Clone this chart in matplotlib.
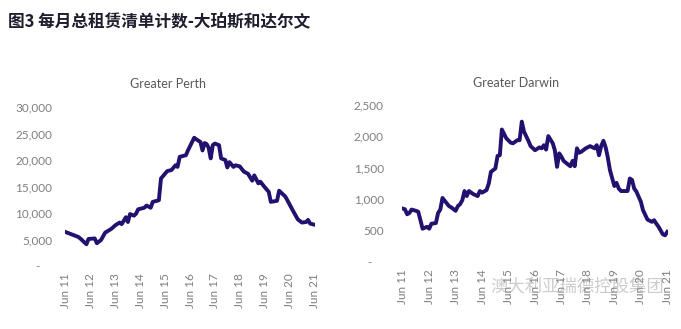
import matplotlib
matplotlib.use("Agg")
import matplotlib.pyplot as plt
import matplotlib.ticker as mticker
import pandas as pd

plt.rcParams['font.family'] = ['Lato', 'Noto Sans CJK SC', 'DejaVu Sans']

title = "图3 每月总租赁清单计数-大珀斯和达尔文"
start = pd.Timestamp("2011-06-01")

# Greater Perth: months since Jun 2011, total listings
perth_months = [0, 6, 7, 10, 11, 14, 15, 17, 19, 22, 24, 26, 27, 29, 30, 31, 33, 34, 35,
                38, 39, 41, 42, 45, 46, 49, 51, 53, 54, 55, 58, 59, 62, 63, 65, 66, 67,
                68, 69, 70, 71, 72, 74, 75, 77, 78, 79, 81, 82, 84, 86, 88, 90, 91, 93,
                94, 96, 98, 99, 102, 103, 106, 107, 110, 112, 114, 116, 117, 118, 120]
perth_values = [6400, 5500, 5200, 4100, 5100, 5200, 4300, 4900, 6300, 7000, 7700, 8200, 7900,
                9200, 8300, 9800, 9500, 9900, 10700, 11000, 11400, 11000, 12100, 12400,
                16500, 17900, 18100, 19000, 18700, 20600, 20900, 21800, 24200, 23900, 23400,
                21800, 23200, 23000, 22300, 20300, 22800, 23100, 22800, 20300, 20000, 18600,
                19600, 18700, 19000, 18800, 17800, 17400, 16100, 17100, 15600, 15900, 14900,
                14000, 12100, 12300, 14200, 13100, 12400, 10200, 8800, 8200, 8300, 8700,
                8000, 7800]

# Greater Darwin
darwin_months = [0, 1, 2, 3, 4, 6, 7, 8, 9, 11, 12, 13, 15, 16, 17, 18, 20, 21, 22, 24, 25,
                 26, 27, 28, 29, 30, 32, 34, 35, 36, 38, 39, 40, 42, 43, 44, 45, 47, 49, 50,
                 52, 53, 54, 55, 57, 58, 60, 62, 63, 64, 65, 66, 68, 69, 70, 71, 72, 73, 74,
                 76, 77, 78, 79, 80, 81, 83, 85, 87, 88, 89, 90, 91, 92, 93, 94, 96, 97, 98,
                 99, 102, 103, 104, 105, 106, 108, 109, 111, 113, 114, 115, 116, 118, 119, 120]
darwin_values = [850, 840, 760, 780, 835, 815, 800, 665, 530, 560, 530, 610, 620, 780, 835,
                 1020, 930, 890, 870, 815, 890, 920, 985, 1130, 1050, 1130, 1080, 1050, 1130,
                 1105, 1145, 1250, 1435, 1490, 1690, 1700, 2110, 1970, 1900, 1890, 1940, 1940,
                 2235, 2075, 1930, 1845, 1780, 1825, 1810, 1860, 1790, 2005, 1890, 1780, 1515,
                 1730, 1675, 1610, 1580, 1525, 1610, 1525, 1810, 1740, 1755, 1810, 1845, 1810,
                 1860, 1700, 1845, 1930, 1825, 1675, 1465, 1210, 1260, 1170, 1130, 1130, 1330,
                 1305, 1170, 1120, 960, 825, 675, 640, 665, 610, 560, 440, 425, 480]

tick_labels = ["Jun 11", "Jun 12", "Jun 13", "Jun 14", "Jun 15", "Jun 16", "Jun 17",
               "Jun 18", "Jun 19", "Jun 20", "Jun 21"]

line_color = "#24106E"
label_color = "#7F7F7F"

fig = plt.figure(figsize=(6.81, 3.29), dpi=100)

def fmt(v, pos):
    if v == 0:
        return "-    "
    return f"{int(v):,}"

def setup(ax, months, values, ymax, step, pad):
    dates = [start + pd.DateOffset(months=m) for m in months]
    ax.plot(dates, values, color=line_color, lw=2.8, solid_joinstyle='round', zorder=3)
    ticks = [start + pd.DateOffset(months=12 * i) for i in range(len(tick_labels))]
    ax.set_xticks(ticks)
    ax.set_xticklabels(tick_labels, rotation=90, fontsize=8.5, color=label_color)
    ax.set_xlim(ticks[0] - pd.Timedelta(days=10), ticks[-1] + pd.Timedelta(days=10))
    ax.set_ylim(0, ymax)
    ax.yaxis.set_major_locator(mticker.MultipleLocator(step))
    ax.yaxis.set_major_formatter(mticker.FuncFormatter(fmt))
    for s in ax.spines.values():
        s.set_visible(False)
    ax.tick_params(axis='both', length=0, labelsize=8.5, labelcolor=label_color)
    ax.tick_params(axis='y', pad=pad)
    ax.tick_params(axis='x', pad=5)

ax1 = fig.add_axes([65 / 681, 63 / 329, 250 / 681, 159 / 329])
setup(ax1, perth_months, perth_values, 30000, 5000, 9)
ax2 = fig.add_axes([402 / 681, 67 / 329, 266 / 681, 157 / 329])
setup(ax2, darwin_months, darwin_values, 2500, 500, 13)

fig.text(168 / 681, 1 - 84 / 329, "Greater Perth", ha='center', va='center',
         fontsize=9, color="#595959")
fig.text(516 / 681, 1 - 83 / 329, "Greater Darwin", ha='center', va='center',
         fontsize=9, color="#595959")

fig.text(8 / 681, 1 - 22 / 329, title, ha='left', va='center', fontsize=12,
         fontweight='bold', color="#1E1E2E",
         family=['Noto Sans CJK SC', 'DejaVu Sans'])

fig.text(490 / 681, 1 - 286 / 329, "澳大利亚瑞德控股集团", ha='left', va='center',
         fontsize=12.5, color="#9A9A9A", alpha=0.5,
         family=['Noto Sans CJK SC', 'DejaVu Sans'])

fig.savefig("out.png", dpi=100)
